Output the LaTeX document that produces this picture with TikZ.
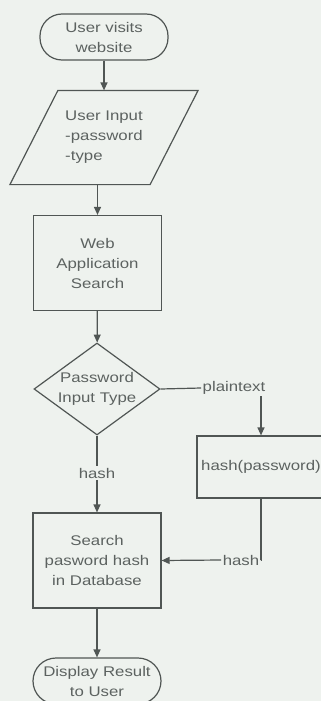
\documentclass[tikz,border=0pt]{standalone}
\usepackage{fontspec}
\setmainfont[FakeStretch=1.2]{Liberation Sans}
\usetikzlibrary{arrows.meta}
\usetikzlibrary{shapes.geometric}

\definecolor{paper}{RGB}{238,242,238}
\definecolor{ink}{RGB}{80,86,84}
\definecolor{txt}{RGB}{92,98,96}

\tikzset{
  base/.style={draw=ink, line width=1.2pt, text=txt, align=center,
    font=\fontsize{14}{20}\selectfont, inner sep=0pt},
  terminal/.style={base, rectangle, rounded corners=22pt,
    minimum width=128pt, minimum height=46pt},
  %% the slanted outline is drawn by hand round this box
  io/.style={base, draw=none, rectangle, align=left,
    minimum width=139pt, minimum height=93pt},
  process/.style={base, rectangle, minimum width=128pt, minimum height=95pt},
  decision/.style={base, diamond, minimum width=126pt, minimum height=92pt},
  tag/.style={text=txt, align=center, font=\fontsize{14}{20}\selectfont, inner sep=1.5pt},
  flow/.style={draw=ink, line width=1.2pt, -{Triangle[length=8pt,width=7pt]}},
  wire/.style={draw=ink, line width=1.2pt}
}

\begin{document}
\begin{tikzpicture}[x=1pt, y=-1pt]

%% page and background
\useasboundingbox (0,0) rectangle (321,701);
\fill[paper] (0,0) rectangle (321,701);

%% main column, top to bottom
\node[terminal] (start)  at (104,37)    {User visits\\website};
\node[io]       (input)  at (104,137.5) {User Input\\-password\\-type};
\draw[ink, line width=1.2pt]
  ([xshift=24pt]input.north west) -- ([xshift=24pt]input.north east)
  -- ([xshift=-24pt]input.south east) -- ([xshift=-24pt]input.south west) -- cycle;
\node[process]  (web)    at (97.5,263)  {Web\\Application\\Search};
\node[decision] (type)   at (97,389)    {};
\node[tag]      (typetxt) at (type)     {Password\\Input Type};
\node[process]  (lookup) at (97,560.5)  {Search\\pasword hash\\in Database};
\node[terminal, rounded corners=23pt]
                (show)   at (97,681)    {Display Result\\to User};

%% branch on the right
\node[process, minimum height=62pt] (hashpw) at (261,467) {hash(password)};

%% edge labels
\node[tag] (plain) at (234,388) {plaintext};
\node[tag] (hashl) at (97,473)  {hash};
\node[tag] (hashr) at (241,560) {hash};

%% connectors
\draw[flow] (start) -- (input.north);
\draw[flow] (input.south -| web.north) -- (web);
\draw[flow] (web) -- (type);
\draw[wire] (type.east) -- (plain.west);
\draw[flow] (plain.south -| hashpw.north) -- (hashpw.north);
\draw[wire] (type.south) -- (hashl.north);
\draw[flow] (hashl.south) -- (lookup.north);
\draw[wire] (hashpw.south) |- (hashr.east);
\draw[flow] (hashr.west) -- (lookup.east);
\draw[flow] (lookup) -- (show);

\end{tikzpicture}
\end{document}
